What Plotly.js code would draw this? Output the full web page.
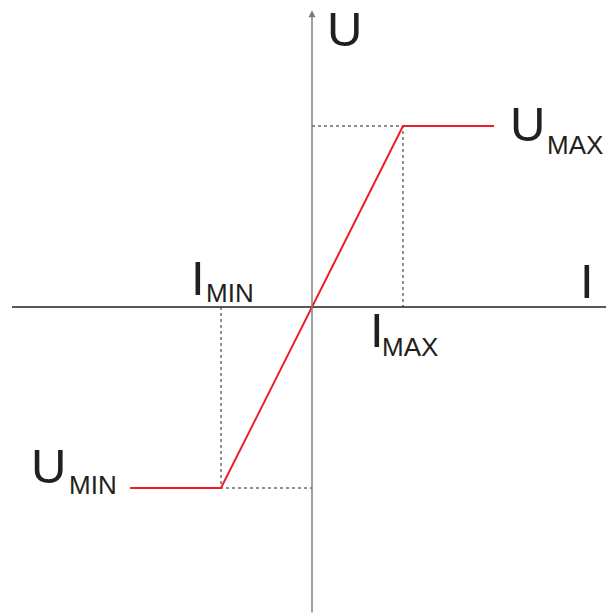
<!DOCTYPE html>
<html>
<head>
<meta charset="utf-8">
<script src="https://cdn.plot.ly/plotly-3.0.1.min.js"></script>
<style>html,body{margin:0;padding:0;background:#fff;}#chart{width:606px;height:614px;}</style>
</head>
<body>
<div id="chart"></div>
<script>
// Characteristic: current I (x) vs voltage U (y), normalised units
const currentI = [-2, -1, 1, 2];
const voltageU = [-1, -1, 1, 1];
const iMin = -1, iMax = 1, uMin = -1, uMax = 1;
const labelU = "U";
const labelI = "I";
const subMax = "MAX";
const subMin = "MIN";

const W = 606, H = 614;
const xRange = [-3.4286, 3.2308];
const yRange = [-1.696, 1.696];
const FONT = "Liberation Sans, Arial, Helvetica, sans-serif";
const TXT = "#231f20";

const traces = [
  // x axis line
  {x: [-3.297, xRange[1]], y: [0, 0], mode: "lines", line: {color: "#231f20", width: 1.3}, hoverinfo: "skip"},
  // dotted guides
  {x: [0, iMax, iMax], y: [uMax, uMax, 0], mode: "lines", line: {color: "#222", width: 1, dash: "dot"}, hoverinfo: "skip"},
  {x: [iMin, iMin, 0], y: [0, uMin, uMin], mode: "lines", line: {color: "#222", width: 1, dash: "dot"}, hoverinfo: "skip"},
  // characteristic
  {x: currentI, y: voltageU, mode: "lines", line: {color: "#ee1c25", width: 2}, hoverinfo: "skip"}
];

const big = 49, small = 26;
function lab(text, xp, yp, size) {
  return {text: text, xref: "paper", yref: "paper", x: xp / W, y: 1 - yp / H,
          xanchor: "left", yanchor: "top", showarrow: false, font: {family: FONT, size: size, color: TXT}};
}

const annotations = [
  // y axis with arrow
  {x: 0, y: 1.64, xref: "x", yref: "y", ax: 0, ay: 604, axref: "pixel", ayref: "pixel",
   showarrow: true, arrowhead: 2, arrowsize: 1, arrowwidth: 1.4, arrowcolor: "#7a7a7a", text: ""},
  lab(labelU, 325, 0, big),
  lab(labelI, 578, 252, big),
  lab(labelU, 508, 95, big), lab(subMax, 545, 128, small),
  lab(labelI, 189, 249, big), lab(subMin, 204, 276, small),
  lab(labelI, 368, 301, big), lab(subMax, 380, 330, small),
  lab(labelU, 29, 437, big), lab(subMin, 67, 468, small)
];

const layout = {
  width: W, height: H,
  margin: {l: 0, r: 0, t: 0, b: 0, pad: 0},
  paper_bgcolor: "#fff", plot_bgcolor: "#fff",
  showlegend: false,
  xaxis: {range: xRange, visible: false, fixedrange: true},
  yaxis: {range: yRange, visible: false, fixedrange: true},
  annotations: annotations
};

Plotly.newPlot("chart", traces, layout, {staticPlot: true, displayModeBar: false});
</script>
</body>
</html>
